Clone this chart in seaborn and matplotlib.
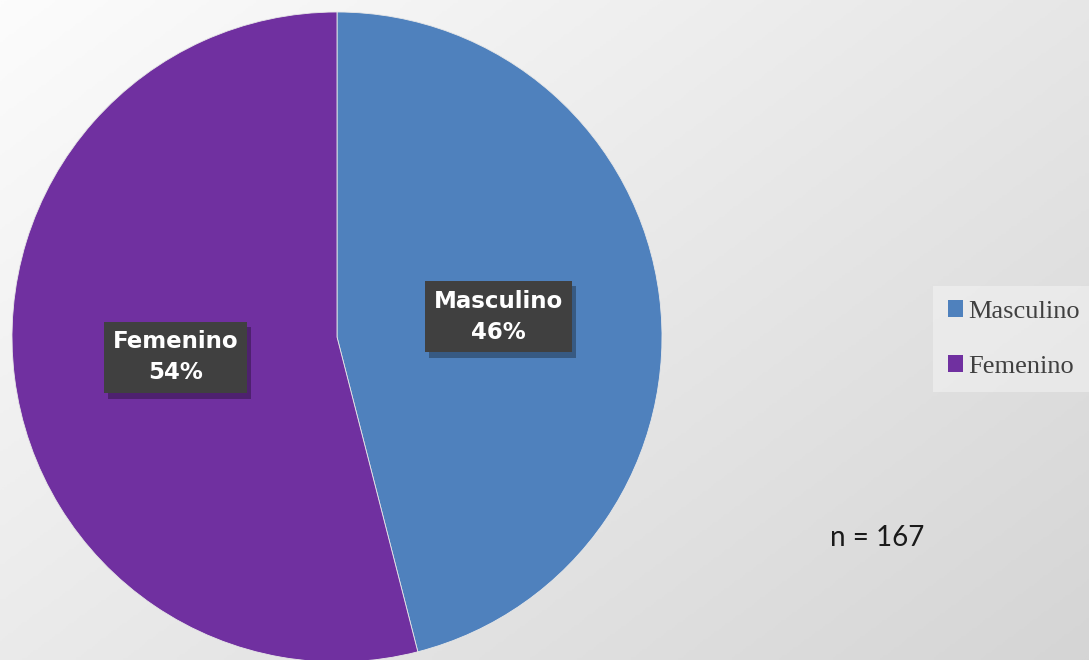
import os

os.environ.setdefault("MPLCONFIGDIR", "/tmp/matplotlib")

import numpy as np
import seaborn as sns
from matplotlib import pyplot as plt
from matplotlib import patheffects
from matplotlib.colors import LinearSegmentedColormap
from matplotlib.patches import Patch


CATEGORIES = ["Masculino", "Femenino"]
PERCENTS = [46, 54]
SAMPLE_NOTE = "n = 167"

COLORS = ["#4F81BD", "#7030A0"]
LABEL_BOX = "#404040"


def draw_background(fig):
    bg = fig.add_axes([0, 0, 1, 1], zorder=-10)
    xs = np.linspace(0, 1, 400)
    ys = np.linspace(0, 1, 250)
    gx, gy = np.meshgrid(xs, ys)
    grad = 0.55 * gx + 0.45 * gy
    cmap = LinearSegmentedColormap.from_list("bg", ["#FCFCFC", "#D5D5D5"])
    bg.imshow(grad, cmap=cmap, aspect="auto", extent=[0, 1, 0, 1], origin="upper")
    bg.set_axis_off()


def main():
    sns.set_theme(style="white")
    plt.rcParams["font.family"] = ["DejaVu Sans"]

    W, H = 1089, 660
    fig = plt.figure(figsize=(W / 100, H / 100), dpi=100)
    draw_background(fig)

    # pie occupies a 650 px square, center at (337, 337) from top-left
    ax = fig.add_axes([12 / W, -2 / H, 650 / W, 650 / H])
    ax.set_facecolor("none")
    palette = sns.color_palette(COLORS)
    wedges, _, autotexts = ax.pie(
        PERCENTS,
        colors=palette,
        startangle=90,
        counterclock=False,
        autopct="%.0f%%",
        pctdistance=0.5,
        wedgeprops={"linewidth": 0.6, "edgecolor": "#E8E8E8"},
        radius=1.0,
    )
    ax.set_xlim(-1, 1)
    ax.set_ylim(-1, 1)
    ax.set_aspect("equal")

    for txt, name, pct in zip(autotexts, CATEGORIES, PERCENTS):
        txt.set_text(f"{name}\n{pct}%")
        txt.set_color("white")
        txt.set_fontweight("bold")
        txt.set_fontsize(16.5)
        txt.set_linespacing(1.45)
        txt.set_ha("center")
        txt.set_va("center")
        txt.set_bbox({"boxstyle": "square,pad=0.38", "facecolor": LABEL_BOX, "edgecolor": "none"})
        txt.get_bbox_patch().set_path_effects(
            [patheffects.withSimplePatchShadow(offset=(3, -4), shadow_rgbFace="black", alpha=0.3)]
        )

    handles = [Patch(facecolor=c, edgecolor="none") for c in palette]
    leg = fig.legend(
        handles,
        CATEGORIES,
        loc="center left",
        bbox_to_anchor=(933 / W, 321 / H),
        frameon=True,
        fancybox=False,
        framealpha=0.35,
        facecolor="white",
        edgecolor="none",
        handlelength=0.6,
        handleheight=0.6,
        handletextpad=0.2,
        labelspacing=1.2,
        borderpad=0.55,
        borderaxespad=0,
        prop={"family": ["Liberation Serif", "DejaVu Serif"], "size": 19},
    )
    for t in leg.get_texts():
        t.set_color("#404040")

    fig.text(830 / W, (H - 546) / H, SAMPLE_NOTE, ha="left", va="baseline",
             fontsize=20, color="#1A1A1A", family=["Lato", "DejaVu Sans"])

    fig.savefig("out.png", dpi=100)
    plt.close(fig)


if __name__ == "__main__":
    main()
